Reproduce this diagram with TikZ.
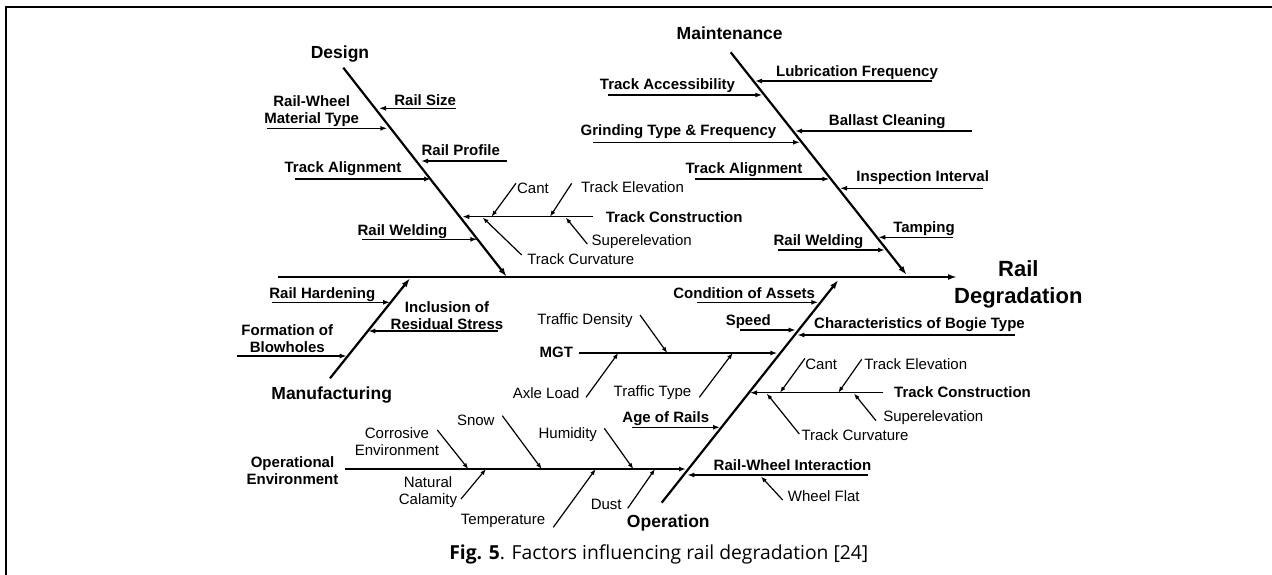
\documentclass[tikz,border=0pt]{standalone}
\usepackage{fontspec}
\setmainfont{Liberation Sans}
\newfontfamily\capfont{Open Sans}
\usetikzlibrary{arrows.meta}
\newcommand{\px}{1pt}
\newcommand{\bone}[7]{
	\coordinate (#1-t) at (#2);
	\coordinate (#1-h) at (#3);
	\draw[#4] (#1-t) -- (#1-h);
	\node[#5] (#1) at (#6) {#7};
}

\begin{document}
\begin{tikzpicture}[x=\px,y=-\px,
	>={Latex[length=7pt,width=5pt]},
	spine/.style={->, line width=2.2pt, >={Latex[length=9pt,width=6pt]}},
	rib/.style={->, line width=1.5pt},
	twig/.style={->, line width=1.2pt, >={Latex[length=6pt,width=4.5pt]}},
	cat/.style={font=\bfseries\fontsize{17.5}{20}\selectfont, inner sep=0pt, anchor=base},
	effect/.style={font=\bfseries\fontsize{22}{26.7}\selectfont, inner sep=0pt, align=center},
	cause/.style={font=\bfseries\fontsize{15}{16.8}\selectfont, inner sep=0pt, anchor=base},
	cause2/.style={cause, anchor=center, align=center},
	minor/.style={font=\fontsize{15}{16.8}\selectfont, inner sep=0pt, anchor=base},
	minor2/.style={minor, anchor=center, align=center}]
	\useasboundingbox (0,0) rectangle (1272,575);
	\draw[line width=2pt] (1272,7) -- (5.5,7) -- (5.5,575);

	% head and main spine
	\coordinate (main-t) at (278,277);
	\coordinate (main-h) at (957,277);
	\draw[spine, line width=2.5pt] (main-t) -- (main-h);
	\node[effect] (effect) at (1018.3,284.3) {Rail\\Degradation};

	% Design
	\coordinate (design-t) at (343.3,67.7);
	\coordinate (design-h) at (506.7,276.7);
	\draw[spine] (design-t) -- (design-h);
	\node[cat] (design) at (340,58.3) {Design};
	\bone{rsize}{456,108.3}{379,108.3}{rib}{cause}{425.2,106}{Rail Size}
	\bone{rwmat}{266.7,128.3}{387.3,128.3}{rib}{cause2}{311.7,111}{Rail-Wheel\\Material Type}
	\bone{rprof}{506.7,161}{421,161}{rib}{cause}{460.8,155.7}{Rail Profile}
	\bone{dalign}{295,179}{431,179}{rib}{cause}{343,172.7}{Track Alignment}
	\bone{dweld}{362.3,239.3}{477.3,239.3}{rib}{cause}{402.5,235}{Rail Welding}
	\bone{dconst}{593.3,216.7}{462.3,216.7}{rib}{cause}{674.2,222.7}{Track Construction}
	\bone{dcant}{516,183.3}{491.5,216.7}{twig}{minor}{533,193.3}{Cant}
	\bone{delev}{571.7,183.3}{550,216.7}{twig}{minor}{632.5,193}{Track Elevation}
	\bone{dsuper}{587.3,244}{565.7,217.5}{twig}{minor}{641.7,245}{Superelevation}
	\bone{dcurv}{521.7,255}{482.7,217.5}{twig}{minor}{580.8,264.3}{Track Curvature}

	% Maintenance
	\coordinate (maint-t) at (730.7,52.3);
	\coordinate (maint-h) at (906.7,275);
	\draw[spine] (maint-t) -- (maint-h);
	\node[cat] (maint) at (729.7,39.5) {Maintenance};
	\bone{lubr}{931.7,81}{755,81}{rib}{cause}{857,76.7}{Lubrication Frequency}
	\bone{access}{608.3,95}{762.3,95}{rib}{cause}{667.5,89.3}{Track Accessibility}
	\bone{ballast}{971.7,131}{795,131}{rib}{cause}{887.3,125.7}{Ballast Cleaning}
	\bone{grind}{593.3,142.3}{800,142.3}{rib}{cause}{678.5,136}{Grinding Type \& Frequency}
	\bone{malign}{695,179}{829.3,179}{rib}{cause}{744,173.3}{Track Alignment}
	\bone{inspect}{983,188.3}{840,188.3}{rib}{cause}{922.7,181.7}{Inspection Interval}
	\bone{tamp}{953.3,237.3}{878.3,237.3}{rib}{cause}{924,232.3}{Tamping}
	\bone{mweld}{778.3,250}{885,250}{rib}{cause}{818.5,245}{Rail Welding}

	% Manufacturing
	\coordinate (manuf-t) at (330,378.3);
	\coordinate (manuf-h) at (410,278.3);
	\draw[spine] (manuf-t) -- (manuf-h);
	\node[cat] (manuf) at (331.7,399.5) {Manufacturing};
	\bone{harden}{271.7,302.3}{390,302.3}{rib}{cause}{322.3,298.3}{Rail Hardening}
	\bone{resid}{498.3,331}{368.3,331}{rib}{cause2}{447,316}{Inclusion of\\Residual Stress}
	\bone{blow}{236.7,356}{346.7,356}{rib}{cause2}{287.3,339}{Formation of\\Blowholes}

	% Operation
	\coordinate (oper-t) at (661.7,502.7);
	\coordinate (oper-h) at (838.3,280);
	\draw[spine] (oper-t) -- (oper-h);
	\node[cat] (oper) at (668.3,527) {Operation};
	\bone{assets}{696.7,302.3}{818.3,302.3}{rib}{cause}{744.2,298.3}{Condition of Assets}
	\bone{speed}{740,330}{795.7,330}{rib}{cause}{748.3,325.7}{Speed}
	\bone{bogie}{1015,335}{797.3,335}{rib}{cause}{919.5,328.3}{Characteristics of Bogie Type}
	\bone{mgt}{579.3,353}{777.3,353}{rib}{cause}{556.3,357}{MGT}
	\bone{density}{640,315}{667.3,353}{twig}{minor}{585,324.3}{Traffic Density}
	\bone{axle}{586,397.3}{618.3,353}{twig}{minor}{546.2,398.3}{Axle Load}
	\bone{ttype}{699.3,397.3}{732.7,353}{twig}{minor}{652.5,396}{Traffic Type}
	\bone{oconst}{883.3,392.7}{750,392.7}{rib}{cause}{962.5,397.3}{Track Construction}
	\bone{ocant}{805,358.3}{780,392.7}{twig}{minor}{821.2,369}{Cant}
	\bone{oelev}{861.7,359.3}{838.3,392.7}{twig}{minor}{915.7,369.3}{Track Elevation}
	\bone{osuper}{876,420.7}{854,393.5}{twig}{minor}{933.3,421}{Superelevation}
	\bone{ocurv}{799.3,434}{766.7,393.5}{twig}{minor}{855,440}{Track Curvature}
	\bone{age}{631.7,427.3}{720,427.3}{rib}{cause}{665.8,422.3}{Age of Rails}
	\bone{openv}{345,469}{686,469}{rib}{cause2}{292.5,471}{Operational\\Environment}
	\bone{corros}{437.3,430}{468.3,469}{twig}{minor2}{397,442}{Corrosive\\Environment}
	\bone{snow}{502.3,415.7}{541.7,469}{twig}{minor}{475.8,425.7}{Snow}
	\bone{humid}{604.3,428.3}{633.3,469}{twig}{minor}{567.8,438.3}{Humidity}
	\bone{calam}{461,499}{486,469}{twig}{minor2}{428,492}{Natural\\Calamity}
	\bone{temp}{553.3,527.3}{595.7,469}{twig}{minor}{503,524.3}{Temperature}
	\bone{dust}{627.7,508.3}{655,469}{twig}{minor}{606.2,509}{Dust}
	\bone{rwint}{868.3,475}{687.3,475}{rib}{cause}{792.5,470}{Rail-Wheel Interaction}
	\bone{wflat}{782.7,500}{761,476.5}{twig}{minor}{823.8,501.7}{Wheel Flat}

	\node[font=\capfont\fontsize{19.3}{22}\selectfont, inner sep=0pt, anchor=base] (caption)
		at (658.8,559) {\textbf{Fig. 5}. Factors influencing rail degradation [24]};
\end{tikzpicture}
\end{document}
